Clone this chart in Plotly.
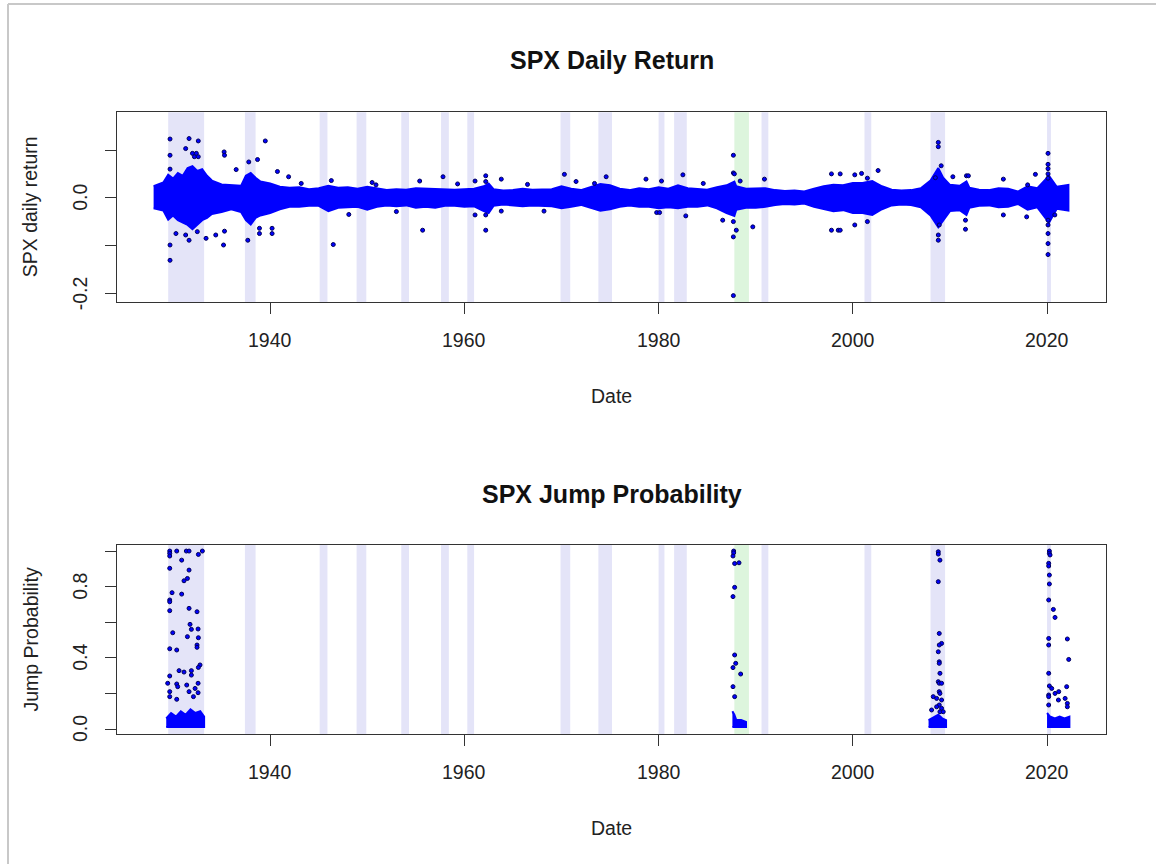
import plotly.graph_objects as go

W, H = 1156, 864

# ---------------- data ----------------
# Recession shading (NBER) and crash shading
rec_start = [1929.5, 1937.4, 1945.1, 1948.9, 1953.5, 1957.6, 1960.3, 1969.9, 1973.8, 1980.0,
             1981.6, 1990.6, 2001.2, 2008.0, 2020.0]
rec_end = [1933.2, 1938.5, 1945.9, 1949.9, 1954.3, 1958.4, 1961.0, 1970.9, 1975.2, 1980.6,
           1982.9, 1991.3, 2001.9, 2009.5, 2020.4]
crash_start = [1987.8]
crash_end = [1989.3]

# Dense core of daily returns (envelope of the tightly packed points)
band_years = [1928.0, 1929.0, 1929.5, 1930.0, 1930.5, 1931.0, 1931.5, 1932.0, 1932.5, 1933.0,
              1933.5, 1934.0, 1935.0, 1936.0, 1937.0, 1937.5, 1938.0, 1938.5, 1939.0, 1940.0,
              1941.0, 1942.0, 1943.0, 1944.0, 1945.0, 1946.0, 1947.0, 1948.0, 1949.0, 1950.0,
              1951.0, 1952.0, 1953.0, 1954.0, 1955.0, 1956.0, 1957.0, 1958.0, 1959.0, 1960.0,
              1961.0, 1962.0, 1962.5, 1963.0, 1964.0, 1965.0, 1966.0, 1967.0, 1968.0, 1969.0,
              1970.0, 1971.0, 1972.0, 1973.0, 1974.0, 1975.0, 1976.0, 1977.0, 1978.0, 1979.0,
              1980.0, 1981.0, 1982.0, 1983.0, 1984.0, 1985.0, 1986.0, 1987.0, 1987.8, 1988.0,
              1989.0, 1990.0, 1991.0, 1992.0, 1993.0, 1994.0, 1995.0, 1996.0, 1997.0, 1998.0,
              1999.0, 2000.0, 2001.0, 2002.0, 2003.0, 2004.0, 2005.0, 2006.0, 2007.0, 2008.0,
              2008.8, 2009.3, 2010.0, 2011.0, 2011.7, 2012.0, 2013.0, 2014.0, 2015.0, 2016.0,
              2017.0, 2018.0, 2019.0, 2020.2, 2021.0, 2022.2]
band_upper = [0.024, 0.032, 0.048, 0.040, 0.052, 0.046, 0.062, 0.066, 0.056, 0.060,
              0.046, 0.036, 0.028, 0.026, 0.025, 0.046, 0.052, 0.042, 0.034, 0.030,
              0.023, 0.021, 0.022, 0.018, 0.020, 0.025, 0.021, 0.022, 0.019, 0.023,
              0.019, 0.016, 0.018, 0.017, 0.020, 0.019, 0.019, 0.018, 0.017, 0.018,
              0.019, 0.024, 0.030, 0.018, 0.015, 0.016, 0.019, 0.017, 0.017, 0.018,
              0.024, 0.019, 0.016, 0.022, 0.029, 0.026, 0.019, 0.016, 0.020, 0.018,
              0.022, 0.019, 0.026, 0.020, 0.019, 0.017, 0.022, 0.026, 0.034, 0.024,
              0.019, 0.020, 0.020, 0.016, 0.014, 0.015, 0.013, 0.019, 0.024, 0.027,
              0.026, 0.031, 0.031, 0.035, 0.024, 0.017, 0.015, 0.016, 0.020, 0.036,
              0.062, 0.042, 0.027, 0.025, 0.034, 0.021, 0.017, 0.016, 0.020, 0.019,
              0.013, 0.024, 0.020, 0.046, 0.023, 0.027]
band_lower = [-0.022, -0.027, -0.046, -0.037, -0.047, -0.052, -0.057, -0.066, -0.057, -0.047,
              -0.042, -0.034, -0.030, -0.024, -0.030, -0.047, -0.056, -0.042, -0.037, -0.032,
              -0.024, -0.019, -0.019, -0.017, -0.017, -0.028, -0.021, -0.020, -0.019, -0.025,
              -0.019, -0.016, -0.018, -0.016, -0.021, -0.019, -0.021, -0.017, -0.017, -0.019,
              -0.018, -0.028, -0.032, -0.017, -0.014, -0.016, -0.018, -0.016, -0.017, -0.018,
              -0.022, -0.019, -0.015, -0.021, -0.027, -0.024, -0.019, -0.016, -0.019, -0.019,
              -0.022, -0.020, -0.022, -0.019, -0.019, -0.016, -0.022, -0.032, -0.038, -0.025,
              -0.021, -0.021, -0.019, -0.015, -0.013, -0.014, -0.012, -0.019, -0.024, -0.028,
              -0.026, -0.032, -0.032, -0.036, -0.024, -0.016, -0.014, -0.015, -0.020, -0.037,
              -0.062, -0.047, -0.028, -0.026, -0.036, -0.021, -0.017, -0.016, -0.020, -0.019,
              -0.013, -0.025, -0.020, -0.052, -0.023, -0.027]

# Isolated daily returns outside the dense core
ret_dates = [1929.69, 1929.69, 1929.69, 1929.69, 1929.69, 1931.65, 1932.6, 1931.3, 1932.0, 1932.2,
             1932.4, 1932.6, 1935.26, 1935.3, 1939.5, 1936.5, 1937.8, 1938.7, 1940.75, 1941.9,
             1931.3, 1932.5, 1931.65, 1933.4, 1930.3, 1935.3, 1935.2, 1934.4, 1937.7, 1938.9,
             1938.9, 1940.2, 1940.2, 1946.5, 1943.2, 1946.3, 1948.1, 1950.5,
             1950.9, 1955.4, 1957.8, 1961.1, 1962.2, 1962.2, 1963.8, 1970.3, 1971.5, 1973.4,
             1974.6, 1955.7, 1962.2, 1961.1, 1962.2, 1963.8, 1953.0, 1966.5, 1968.2, 1959.3,
             1978.7, 1980.3, 1982.5, 1987.7, 1987.7, 1987.8, 1988.4, 1990.9, 1997.8, 1984.6,
             1979.8, 1980.1, 1982.8, 1986.6, 1987.7, 1988.0, 1987.7, 1989.7, 1987.7, 1997.8, 1998.5,
             1998.7, 2000.2, 2000.9, 2002.6, 2001.5, 2008.8, 2008.8, 2009.1, 2008.5, 2010.3,
             2011.7, 2011.9, 2015.5, 2018.0, 2018.8, 2020.1, 2020.1, 2020.1, 2020.1, 2020.1,
             1998.7, 2000.2, 2001.5, 2008.8, 2008.8, 2008.9, 2011.6, 2011.6, 2015.5, 2017.9,
             2020.1, 2020.1, 2020.1, 2020.1, 2020.1, 2020.8]
ret_values = [0.123, 0.089, 0.060, -0.099, -0.131, 0.124, 0.119, 0.103, 0.093, 0.086,
              0.093, 0.086, 0.096, 0.089, 0.119, 0.059, 0.075, 0.080, 0.055, 0.044,
              -0.078, -0.071, -0.089, -0.085, -0.075, -0.070, -0.099, -0.078, -0.089, -0.075,
              -0.064, -0.064, -0.075, -0.098, 0.030, 0.036, -0.035, 0.032,
              0.027, 0.035, 0.044, 0.035, 0.046, 0.034, 0.039, 0.049, 0.034, 0.030,
              0.044, -0.068, -0.068, -0.036, -0.036, -0.028, -0.029, 0.028, -0.028, 0.029,
              0.039, 0.035, 0.048, 0.089, 0.052, 0.050, 0.035, 0.039, 0.050, 0.030,
              -0.031, -0.031, -0.038, -0.047, -0.050, -0.068, -0.082, -0.061, -0.205, -0.068, -0.068,
              0.050, 0.048, 0.051, 0.057, 0.041, 0.116, 0.107, 0.067, 0.042, 0.044,
              0.046, 0.046, 0.039, 0.027, 0.049, 0.093, 0.070, 0.061, 0.050, 0.041,
              -0.068, -0.057, -0.050, -0.078, -0.089, -0.057, -0.066, -0.047, -0.036, -0.040,
              -0.047, -0.057, -0.075, -0.096, -0.119, -0.036]

# Dense low-probability clusters in the jump probability panel
jump_c1_years = [1929.3, 1929.8, 1930.3, 1930.8, 1931.3, 1931.8, 1932.3, 1932.8, 1933.2]
jump_c1_upper = [0.06, 0.09, 0.07, 0.10, 0.08, 0.11, 0.09, 0.10, 0.07]
jump_c2_years = [1987.6, 1987.8, 1988.0, 1988.5, 1989.0]
jump_c2_upper = [0.10, 0.08, 0.05, 0.05, 0.04]
jump_c3_years = [2007.8, 2008.3, 2008.8, 2009.2, 2009.6]
jump_c3_upper = [0.05, 0.065, 0.08, 0.06, 0.05]
jump_c4_years = [2020.0, 2020.3, 2020.8, 2021.3, 2021.8, 2022.3]
jump_c4_upper = [0.09, 0.07, 0.06, 0.07, 0.06, 0.07]
jump_floor = 0.012

# Isolated jump probabilities
jump_dates = [1929.66, 1929.66, 1929.66, 1930.38, 1931.37, 1931.65, 1932.61, 1933.02, 1930.89, 1929.66,
              1931.65, 1931.48, 1931.13, 1929.9, 1930.89, 1929.66, 1929.66, 1929.66, 1931.65, 1932.47,
              1931.75, 1931.89, 1932.58, 1929.97, 1931.48, 1932.61, 1932.47, 1932.47, 1929.66, 1930.38,
              1932.78, 1932.61, 1930.62, 1931.13, 1931.89, 1931.89, 1929.66, 1932.58, 1929.45, 1930.38,
              1930.48, 1931.41, 1932.27, 1932.58, 1929.66, 1931.65, 1932.1, 1929.66, 1930.38,
              1987.73, 1987.73, 1987.66, 1987.83, 1988.28, 1987.83, 1987.66, 1987.83, 1987.94, 1987.66,
              1988.45, 1987.66, 1987.83,
              2008.80, 2008.80, 2008.97, 2008.80, 2008.90, 2009.14, 2008.90, 2008.80, 2008.90, 2008.90,
              2008.97, 2008.80, 2008.90, 2009.14, 2008.90, 2008.97, 2008.28, 2008.63, 2009.14, 2008.90,
              2008.63, 2009.14, 2008.11, 2008.97, 2009.31,
              2020.24, 2020.24, 2020.31, 2020.17, 2020.17, 2020.24, 2020.24, 2020.17, 2020.65, 2020.82,
              2020.17, 2020.17, 2022.09, 2022.23, 2020.17, 2020.24, 2020.48, 2022.02, 2020.82, 2021.2,
              2020.17, 2020.17, 2021.17, 2021.86, 2022.09, 2020.17, 2022.09]
jump_values = [1.0, 0.987, 0.972, 1.0, 1.0, 1.0, 0.981, 1.0, 0.949, 0.903,
               0.893, 0.846, 0.833, 0.766, 0.758, 0.725, 0.715, 0.665, 0.678, 0.659,
               0.588, 0.560, 0.562, 0.541, 0.519, 0.513, 0.472, 0.459, 0.451, 0.444,
               0.360, 0.346, 0.328, 0.320, 0.328, 0.303, 0.298, 0.257, 0.257, 0.253,
               0.238, 0.247, 0.228, 0.204, 0.210, 0.210, 0.182, 0.182, 0.167,
               1.0, 0.99, 0.972, 0.93, 0.934, 0.796, 0.744, 0.416, 0.369, 0.345,
               0.309, 0.238, 0.182,
               0.996, 0.983, 0.949, 0.828, 0.537, 0.481, 0.472, 0.434, 0.378, 0.369,
               0.313, 0.266, 0.257, 0.257, 0.210, 0.200, 0.182, 0.172, 0.163, 0.135,
               0.125, 0.116, 0.107, 0.097, 0.097,
               1.0, 0.987, 0.978, 0.931, 0.916, 0.865, 0.815, 0.725, 0.672, 0.627,
               0.509, 0.472, 0.506, 0.391, 0.313, 0.242, 0.228, 0.238, 0.200, 0.210,
               0.191, 0.182, 0.163, 0.172, 0.144, 0.135, 0.125]

# Axis ticks and labels
x_ticks = [1940, 1960, 1980, 2000, 2020]
x_tick_labels = ["1940", "1960", "1980", "2000", "2020"]
ret_y_ticks = [-0.2, -0.1, 0.0, 0.1]
ret_y_labels = ["-0.2", "", "0.0", ""]
jump_y_ticks = [0.0, 0.2, 0.4, 0.6, 0.8, 1.0]
jump_y_labels = ["0.0", "", "0.4", "", "0.8", ""]

# ---------------- layout geometry (pixels) ----------------
PX_L, PX_R = 117, 1106
TOP_T, TOP_B = 112.3, 302.3
BOT_T, BOT_B = 545, 734
X_RANGE = [1924.23, 2026.07]
RET_RANGE = [-0.219, 0.179]
JUMP_RANGE = [-0.028, 1.034]

def px(xp):
    return xp / W

def py(yp):
    return 1 - yp / H

BLUE = "#0000FF"
EDGE = "#00005A"
AXC = "#333333"
FONT = "Liberation Sans, Arial, sans-serif"

fig = go.Figure()

# --- top panel: dense core ---
fig.add_trace(go.Scatter(
    x=band_years + band_years[::-1],
    y=band_upper + band_lower[::-1],
    fill="toself", fillcolor=BLUE, mode="lines",
    line=dict(color=BLUE, width=2), xaxis="x", yaxis="y", hoverinfo="skip"))
fig.add_trace(go.Scatter(
    x=ret_dates, y=ret_values, mode="markers",
    marker=dict(size=4, color=BLUE, line=dict(color=EDGE, width=1)),
    xaxis="x", yaxis="y"))

# --- bottom panel: dense clusters ---
for yrs, up in [(jump_c1_years, jump_c1_upper), (jump_c2_years, jump_c2_upper),
                (jump_c3_years, jump_c3_upper), (jump_c4_years, jump_c4_upper)]:
    fig.add_trace(go.Scatter(
        x=yrs + yrs[::-1], y=up + [jump_floor] * len(yrs),
        fill="toself", fillcolor=BLUE, mode="lines",
        line=dict(color=BLUE, width=2), xaxis="x2", yaxis="y2", hoverinfo="skip"))
fig.add_trace(go.Scatter(
    x=jump_dates, y=jump_values, mode="markers",
    marker=dict(size=4, color=BLUE, line=dict(color=EDGE, width=1)),
    xaxis="x2", yaxis="y2"))

# --- shaded periods ---
shapes = []
for yref in ["y domain", "y2 domain"]:
    xref = "x" if yref == "y domain" else "x2"
    for s, e in zip(rec_start, rec_end):
        shapes.append(dict(type="rect", xref=xref, yref=yref, x0=s, x1=e, y0=0, y1=1,
                           fillcolor="#E4E4F8", line=dict(width=0), layer="below"))
    for s, e in zip(crash_start, crash_end):
        shapes.append(dict(type="rect", xref=xref, yref=yref, x0=s, x1=e, y0=0, y1=1,
                           fillcolor="#DDF5DD", line=dict(width=0), layer="below"))
# outer frame of the picture
shapes.append(dict(type="line", xref="paper", yref="paper", x0=px(8), x1=1, y0=py(4), y1=py(4),
                   line=dict(color="#C8C8C8", width=2)))
shapes.append(dict(type="line", xref="paper", yref="paper", x0=px(8), x1=px(8), y0=0, y1=py(4),
                   line=dict(color="#C8C8C8", width=2)))

axis_common = dict(showline=True, mirror=True, linecolor=AXC, linewidth=1.3,
                   ticks="outside", ticklen=11, tickwidth=1.3, tickcolor=AXC,
                   showgrid=False, zeroline=False, showticklabels=False, fixedrange=True)

fig.update_layout(
    width=W, height=H, margin=dict(l=0, r=0, t=0, b=0),
    paper_bgcolor="white", plot_bgcolor="white", showlegend=False,
    shapes=shapes,
    xaxis=dict(domain=[px(PX_L), px(PX_R)], range=X_RANGE, tickvals=x_ticks,
               anchor="y", **axis_common),
    yaxis=dict(domain=[py(TOP_B), py(TOP_T)], range=RET_RANGE, tickvals=ret_y_ticks,
               anchor="x", **axis_common),
    xaxis2=dict(domain=[px(PX_L), px(PX_R)], range=X_RANGE, tickvals=x_ticks,
                anchor="y2", **axis_common),
    yaxis2=dict(domain=[py(BOT_B), py(BOT_T)], range=JUMP_RANGE, tickvals=jump_y_ticks,
                anchor="x2", **axis_common),
)

ann = []
TICKF = dict(family=FONT, size=19.5, color="#222222")
# x tick labels
for xr, yl in [("x", TOP_B), ("x2", BOT_B)]:
    for v, t in zip(x_ticks, x_tick_labels):
        ann.append(dict(x=v, xref=xr, y=py(yl + 38), yref="paper", text=t, showarrow=False,
                        font=TICKF, xanchor="center", yanchor="middle"))
# y tick labels (rotated as in R)
for v, t in zip(ret_y_ticks, ret_y_labels):
    if t:
        ann.append(dict(x=px(80), xref="paper", y=v, yref="y", text=t, showarrow=False,
                        font=TICKF, textangle=-90, xanchor="center", yanchor="middle"))
for v, t in zip(jump_y_ticks, jump_y_labels):
    if t:
        ann.append(dict(x=px(80), xref="paper", y=v, yref="y2", text=t, showarrow=False,
                        font=TICKF, textangle=-90, xanchor="center", yanchor="middle"))
# titles and axis titles
TITLEF = dict(family=FONT, size=25, color="#111111")
LABF = dict(family=FONT, size=19.5, color="#222222")
cx = px((PX_L + PX_R) / 2)
ann += [
    dict(x=cx, y=py(60), xref="paper", yref="paper", text="<b>SPX Daily Return</b>",
         showarrow=False, font=TITLEF, xanchor="center", yanchor="middle"),
    dict(x=cx, y=py(494), xref="paper", yref="paper", text="<b>SPX Jump Probability</b>",
         showarrow=False, font=TITLEF, xanchor="center", yanchor="middle"),
    dict(x=cx, y=py(396), xref="paper", yref="paper", text="Date",
         showarrow=False, font=LABF, xanchor="center", yanchor="middle"),
    dict(x=cx, y=py(828), xref="paper", yref="paper", text="Date",
         showarrow=False, font=LABF, xanchor="center", yanchor="middle"),
    dict(x=px(30), y=py((TOP_T + TOP_B) / 2), xref="paper", yref="paper", text="SPX daily return",
         showarrow=False, font=LABF, textangle=-90, xanchor="center", yanchor="middle"),
    dict(x=px(30), y=py((BOT_T + BOT_B) / 2), xref="paper", yref="paper", text="Jump Probability",
         showarrow=False, font=LABF, textangle=-90, xanchor="center", yanchor="middle"),
]
fig.update_layout(annotations=ann)

# remove the browser's default 8px page margin so the figure sits at the window origin
fig.write_html("out.html", config={"displayModeBar": False},
               post_script="document.body.style.margin='0';")
